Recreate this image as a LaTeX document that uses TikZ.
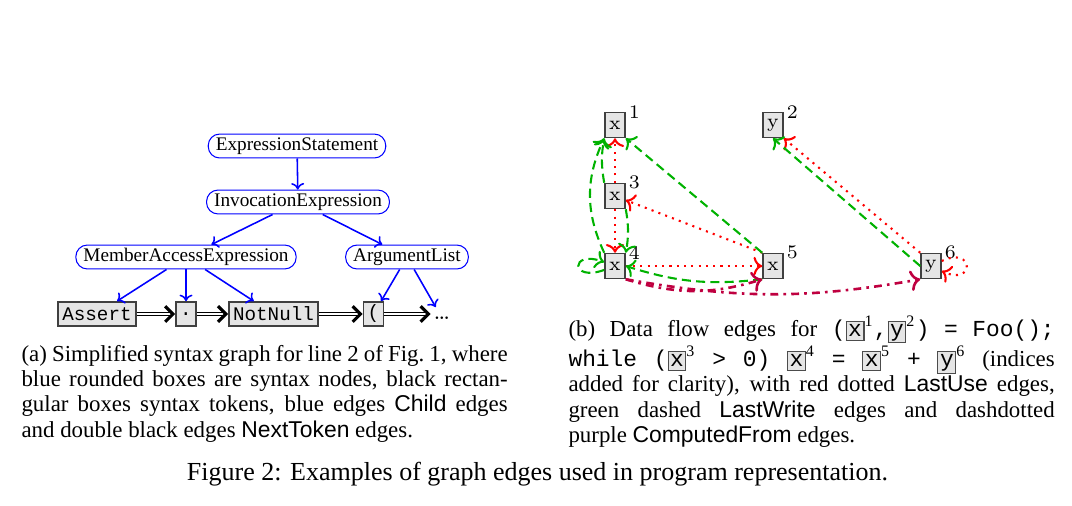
\documentclass[tikz,border=0pt]{standalone}
\usepackage{fontspec}
\newfontfamily\timesfont{Liberation Serif}
\setsansfont{Liberation Sans}
\setmonofont{Liberation Mono}
\usetikzlibrary{arrows.meta}
\setlength{\fboxsep}{0.6pt}
\setlength{\fboxrule}{0.4pt}
\newcommand{\codebox}[1]{\fcolorbox{black!70}{gray!20}{\rule[-0.9pt]{0pt}{5.8pt}\texttt{#1}}}

\begin{document}
\begin{tikzpicture}[x=0.3846pt,y=-0.3846pt,
  syn/.style={draw=blue,rounded corners=4.4pt,font=\timesfont\fontsize{7.4}{8}\selectfont,inner xsep=2.9pt,inner ysep=0pt,minimum height=9.2pt},
  tok/.style={draw=black!75,line width=0.7pt,fill=gray!20,font=\ttfamily\fontsize{7.4}{8}\selectfont,inner xsep=1.6pt,inner ysep=0pt,minimum height=9.2pt},
  var/.style={draw=black!75,line width=0.6pt,fill=gray!20,font=\fontsize{7.4}{8}\selectfont,inner sep=0pt,minimum width=7.7pt,minimum height=9.6pt},
  idx/.style={anchor=west,inner sep=1pt,font=\fontsize{7.4}{8}\selectfont},
  child/.style={draw=blue,line width=0.6pt,-{To[length=2.5pt,width=5pt]}},
  nexttok/.style={double,line width=0.5pt,double distance=0.8pt,-{Straight Barb[length=3pt,width=6pt,line width=1.2pt]}},
  lastuse/.style={draw=red,line width=0.8pt,dotted,->},
  lastwrite/.style={draw=green!70!black,line width=0.8pt,dash pattern=on 3.5pt off 2pt,->},
  compfrom/.style={draw=purple,line width=1pt,dash dot,->},
  capt/.style={anchor=base west,inner sep=0pt,text width=187pt,align=justify,font=\timesfont\fontsize{8.8}{9.8}\selectfont}]
  \useasboundingbox (0,0) rectangle (1072,505);

  \node[syn] (es) at (297,146) {ExpressionStatement};
  \node[syn] (ie) at (298,202) {InvocationExpression};
  \node[syn] (mae) at (186,257) {MemberAccessExpression};
  \node[syn] (al) at (407,257) {ArgumentList};
  \node[tok] (assert) at (97,314) {Assert};
  \node[tok] (dot) at (186,314) {.};
  \node[tok] (notnull) at (273.5,314) {NotNull};
  \node[tok] (paren) at (373.5,314) {(};
  \node[inner sep=1pt,minimum height=8pt,font=\fontsize{9.5}{10}\selectfont] (dots) at (442,318) {\ldots};
  \draw[child] (es) -- (ie);
  \draw[child] (ie) -- (mae);
  \draw[child] (ie) -- (al);
  \draw[child] (mae) -- (assert);
  \draw[child] (mae) -- (dot);
  \draw[child] (mae) -- (notnull);
  \draw[child] (al) -- (paren);
  \draw[child] (al) -- (dots);
  \draw[nexttok] (assert) -- (dot);
  \draw[nexttok] (dot) -- (notnull);
  \draw[nexttok] (notnull) -- (paren);
  \draw[nexttok] (paren) -- (dots.west |- paren);

  \node[var,label={[idx]north east:1}] (x1) at (615,125) {x};
  \node[var,label={[idx]north east:2}] (y2) at (773,125) {y};
  \node[var,label={[idx]north east:3}] (x3) at (615,196) {x};
  \node[var,label={[idx]north east:4}] (x4) at (615,266) {x};
  \node[var,label={[idx]north east:5}] (x5) at (773,266) {x};
  \node[var,label={[idx]north east:6}] (y6) at (931,266) {y};
  \draw[lastuse] (x3) -- (x1);
  \draw[lastuse] (x3) -- (x4);
  \draw[lastuse] (x5.north west) -- (x3);
  \draw[lastuse] (x4) -- (x5);
  \draw[lastuse] (y6.north west) -- (y2.south east);
  \draw[lastuse] (y6) to[out=25,in=-25,min distance=14pt] (y6);
  \draw[lastwrite] (x3.north west) to[bend left=10] (x1.south west);
  \draw[lastwrite] (x4.north west) to[bend left=25] (x1.south west);
  \draw[lastwrite] (x3.south east) to[bend left=10] (x4.north east);
  \draw[lastwrite] (x5.north west) -- (x1.south east);
  \draw[lastwrite] (x5.south west) to[bend left=12] (x4.east);
  \draw[lastwrite] (x4) to[out=200,in=160,min distance=14pt] (x4);
  \draw[lastwrite] (y6.west) -- (y2.south);
  \draw[compfrom] (x4.south east) to[bend right=17] (x5.south west);
  \draw[compfrom] (x4.south east) to[bend right=10] (y6.south west);

  \node[capt] (capa) at (21,361) {(a) Simplified syntax graph for line 2 of Fig.~1, where\linebreak
    blue rounded boxes are syntax nodes, black rectan-\linebreak
    gular boxes syntax tokens, blue edges \textsf{Child} edges\linebreak
    and double black edges \textsf{NextToken} edges.};
  \node[capt] (capb) at (568,336) {(b) Data flow edges for \texttt{(}\codebox{x}\textsuperscript{1}\texttt{,}\codebox{y}\textsuperscript{2}\texttt{)} \texttt{=} \texttt{Foo();}\linebreak
    \texttt{while} \texttt{(}\codebox{x}\textsuperscript{3} \texttt{>} \texttt{0)} \codebox{x}\textsuperscript{4} \texttt{=} \codebox{x}\textsuperscript{5} \texttt{+} \codebox{y}\textsuperscript{6} (indices\linebreak
    added for clarity), with red dotted \textsf{LastUse} edges,\linebreak
    green dashed \textsf{LastWrite} edges and dashdotted\linebreak
    purple \textsf{ComputedFrom} edges.};
  \node[anchor=base,inner sep=0pt,font=\timesfont] (fig) at (537.5,480) {Figure 2: Examples of graph edges used in program representation.};
\end{tikzpicture}
\end{document}
